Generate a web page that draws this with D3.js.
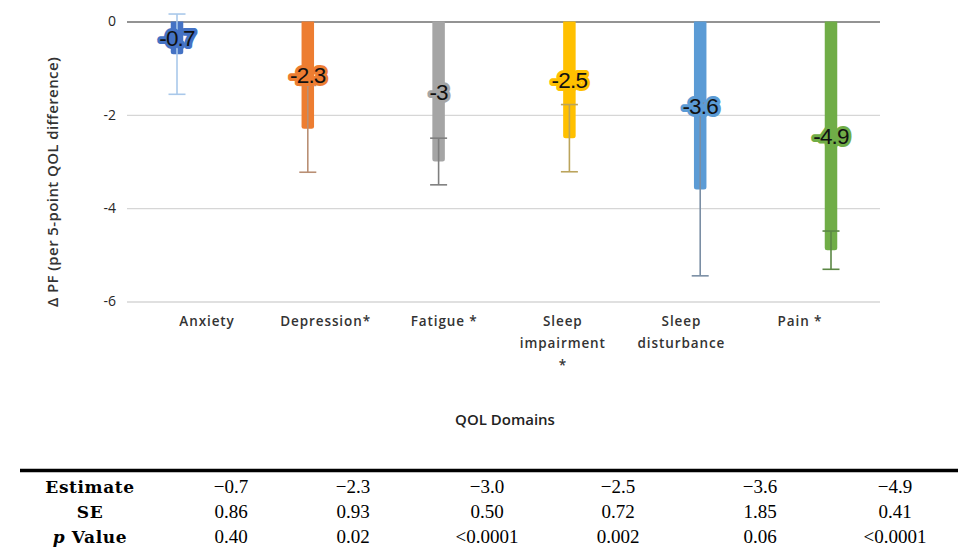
<!DOCTYPE html>
<html>
<head>
<meta charset="utf-8">
<script src="https://cdn.jsdelivr.net/npm/d3@7/dist/d3.min.js"></script>
<style>
  html, body { margin: 0; padding: 0; background: #fff; }
  svg { display: block; }
</style>
</head>
<body>
<svg id="chart" width="959" height="557"></svg>
<script>
// QOL domains, estimates and standard errors
var domains = ['Anxiety', 'Depression*', 'Fatigue *', 'Sleep impairment *', 'Sleep disturbance', 'Pain *'];
var labelLines = [['Anxiety'], ['Depression*'], ['Fatigue *'], ['Sleep', 'impairment', '*'], ['Sleep', 'disturbance'], ['Pain *']];
var estimates = [-0.7, -2.3, -3.0, -2.5, -3.6, -4.9];
var stdErrors = [0.86, 0.93, 0.50, 0.72, 1.85, 0.41];
var pValues = ['0.40', '0.02', '<0.0001', '0.002', '0.06', '<0.0001'];
var yTicks = [0, -2, -4, -6];

var barColors = ['#4472c4', '#ed7d31', '#a5a5a5', '#ffc000', '#5b9bd5', '#70ad47'];
var errColors = ['#a9c8ea', '#b98f74', '#7f7f7f', '#bba45c', '#7a8ea4', '#5b8744'];

var svg = d3.select('#chart');

var y = d3.scaleLinear().domain([-6, 0]).range([301.5, 21.5]);
var xBar = d3.scalePoint().domain(domains).range([177, 831]);
var xLab = d3.scalePoint().domain(domains).range([207, 800]);
var gridLeft = 127, gridRight = 880;
var barwidth = 12.5;

var rows = domains.map(function(d, i) {
  return { name: d, lines: labelLines[i], est: estimates[i], se: stdErrors[i], p: pValues[i], color: barColors[i], err: errColors[i] };
});

// grid lines
var yAxis = d3.axisLeft(y)
  .tickValues(yTicks)
  .tickSize(-(gridRight - gridLeft))
  .tickPadding(11)
  .tickFormat(d3.format('d'));

var gAxis = svg.append('g')
  .attr('transform', 'translate(' + gridLeft + ',0)')
  .call(yAxis);
gAxis.select('.domain').remove();
gAxis.selectAll('.tick line')
  .style('stroke', function(d) { return d === 0 ? '#6f6f6f' : '#d6d6d6'; })
  .style('stroke-width', function(d) { return d === 0 ? 1.6 : 1.3; });
gAxis.selectAll('.tick text')
  .style('font-family', 'Open Sans, sans-serif')
  .style('font-size', '14px')
  .style('fill', '#262626')
  .text(function(d) { return d === 0 ? '0' : '-' + Math.abs(d); });

// bars
svg.append('g').selectAll('path.bar')
  .data(rows)
  .enter()
  .append('path')
  .attr('class', 'bar')
  .attr('d', function(d) {
    var x0 = xBar(d.name) - barwidth / 2, y0 = y(0), y1 = y(d.est), r = 2.5;
    return 'M' + x0 + ',' + y0 + 'V' + (y1 - r) + 'Q' + x0 + ',' + y1 + ' ' + (x0 + r) + ',' + y1 +
      'H' + (x0 + barwidth - r) + 'Q' + (x0 + barwidth) + ',' + y1 + ' ' + (x0 + barwidth) + ',' + (y1 - r) + 'V' + y0 + 'Z';
  })
  .style('fill', function(d) { return d.color; });

// error bars (estimate +/- SE)
var err = svg.append('g').selectAll('g.err')
  .data(rows)
  .enter()
  .append('g')
  .attr('class', 'err')
  .style('stroke', function(d) { return d.err; })
  .style('stroke-width', 1.6);

err.append('line')
  .attr('x1', function(d) { return xBar(d.name); })
  .attr('x2', function(d) { return xBar(d.name); })
  .attr('y1', function(d) { return y(d.est + d.se); })
  .attr('y2', function(d) { return y(d.est - d.se); });

err.selectAll('line.cap')
  .data(function(d) { return [{ d: d, v: d.est + d.se }, { d: d, v: d.est - d.se }]; })
  .enter()
  .append('line')
  .attr('class', 'cap')
  .attr('x1', function(c) { return xBar(c.d.name) - 8.5; })
  .attr('x2', function(c) { return xBar(c.d.name) + 8.5; })
  .attr('y1', function(c) { return y(c.v); })
  .attr('y2', function(c) { return y(c.v); });

// data labels, centred half way down each bar
svg.append('g').selectAll('text.val')
  .data(rows)
  .enter()
  .append('text')
  .attr('class', 'val')
  .attr('x', function(d) { return xBar(d.name); })
  .attr('y', function(d) { return y(d.est / 2) + 8; })
  .attr('text-anchor', 'middle')
  .style('font-family', 'Liberation Sans, Arial, sans-serif')
  .style('font-size', '22.5px')
  .style('letter-spacing', '-0.8px')
  .style('fill', '#111')
  .style('stroke', function(d) { return d.color; })
  .style('stroke-width', 6)
  .style('stroke-linejoin', 'round')
  .style('paint-order', 'stroke')
  .text(function(d) { return String(d.est); });

// category labels
var cat = svg.append('g').selectAll('text.cat')
  .data(rows)
  .enter()
  .append('text')
  .attr('class', 'cat')
  .attr('text-anchor', 'middle')
  .style('font-family', 'Open Sans, sans-serif')
  .style('font-size', '13.5px')
  .style('font-weight', 600)
  .style('letter-spacing', '0.9px')
  .style('fill', '#333');

cat.selectAll('tspan')
  .data(function(d) { return d.lines.map(function(l) { return { name: d.name, line: l }; }); })
  .enter()
  .append('tspan')
  .attr('x', function(t) { return xLab(t.name); })
  .attr('y', function(t, i) { return 326 + i * 22; })
  .text(function(t) { return t.line; });

// axis titles
svg.append('text')
  .attr('transform', 'translate(58,182) rotate(-90)')
  .attr('text-anchor', 'middle')
  .style('font-family', 'Open Sans, sans-serif')
  .style('font-size', '15px')
  .style('font-weight', 600)
  .style('letter-spacing', '0.4px')
  .style('fill', '#333')
  .text('\u0394 PF (per 5-point QOL difference)');

svg.append('text')
  .attr('x', 505)
  .attr('y', 425)
  .attr('text-anchor', 'middle')
  .style('font-family', 'Open Sans, sans-serif')
  .style('font-size', '15px')
  .style('font-weight', 600)
  .style('fill', '#222')
  .text('QOL Domains');

// statistics table below the chart
var colX = [231, 353, 487, 618, 760, 895];
var rowNames = ['Estimate', 'SE', 'p Value'];
var rowY = [493, 518, 543];
var fmtEst = function(v) { return '\u2212' + Math.abs(v).toFixed(1); };

svg.append('line')
  .attr('x1', 20).attr('x2', 958)
  .attr('y1', 470.5).attr('y2', 470.5)
  .style('stroke', '#000')
  .style('stroke-width', 3.5);

var table = svg.append('g')
  .style('font-family', 'Liberation Serif, Times New Roman, serif')
  .style('font-size', '19px')
  .style('fill', '#000');

var head = table.selectAll('text.head')
  .data(rowNames)
  .enter()
  .append('text')
  .attr('class', 'head')
  .attr('x', 90)
  .attr('y', function(d, i) { return rowY[i]; })
  .attr('text-anchor', 'middle')
  .style('font-family', 'DejaVu Serif, serif')
  .style('font-size', '17px')
  .style('font-weight', 'bold')
  .style('letter-spacing', '0.6px');
head.each(function(d) {
  var t = d3.select(this);
  if (d === 'p Value') {
    t.append('tspan').style('font-style', 'italic').text('p');
    t.append('tspan').text(' Value');
  } else {
    t.text(d);
  }
});

var cells = [];
rows.forEach(function(d, i) {
  cells.push({ col: i, row: 0, text: fmtEst(d.est) });
  cells.push({ col: i, row: 1, text: d.se.toFixed(2) });
  cells.push({ col: i, row: 2, text: d.p });
});

table.selectAll('text.cell')
  .data(cells)
  .enter()
  .append('text')
  .attr('class', 'cell')
  .attr('x', function(c) { return colX[c.col]; })
  .attr('y', function(c) { return rowY[c.row]; })
  .attr('text-anchor', 'middle')
  .text(function(c) { return c.text; });
</script>
</body>
</html>
